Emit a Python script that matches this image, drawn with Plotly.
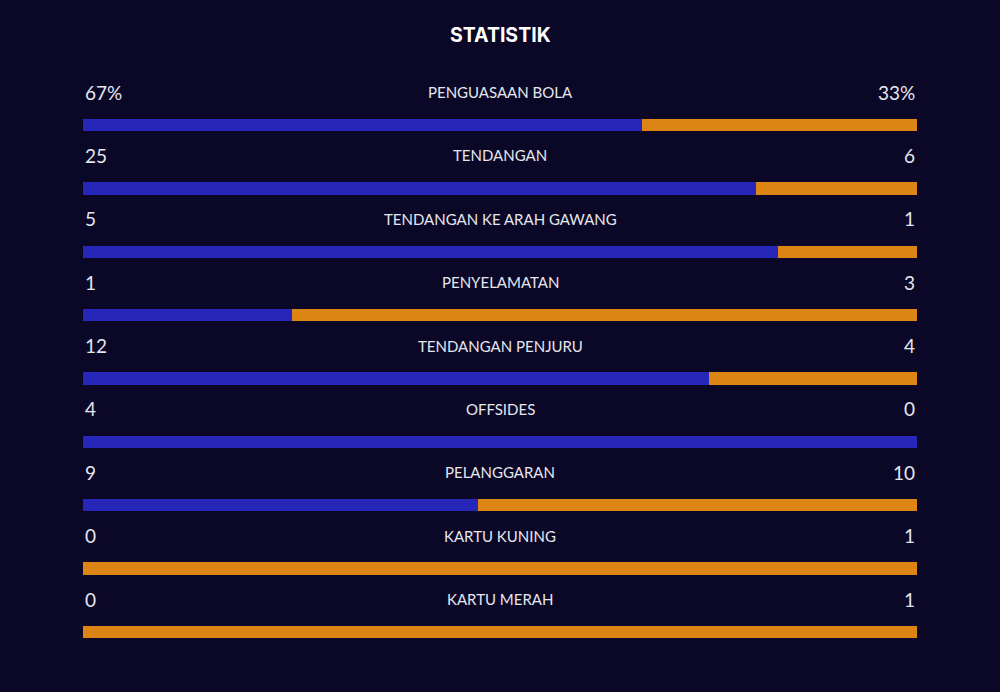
import plotly.graph_objects as go

categories = ["PENGUASAAN BOLA", "TENDANGAN", "TENDANGAN KE ARAH GAWANG", "PENYELAMATAN",
              "TENDANGAN PENJURU", "OFFSIDES", "PELANGGARAN", "KARTU KUNING", "KARTU MERAH"]
home_values = [67, 25, 5, 1, 12, 4, 9, 0, 0]
away_values = [33, 6, 1, 3, 4, 0, 10, 1, 1]
home_labels = ["67%", "25", "5", "1", "12", "4", "9", "0", "0"]
away_labels = ["33%", "6", "1", "3", "4", "0", "10", "1", "1"]

BG = "#0a0826"
BLUE = "#2626b8"
ORANGE = "#dc8515"
TXT = "#e6e6ee"

n = len(categories)
rows = list(range(n))
home_frac = [h / (h + a) if (h + a) else 0.5 for h, a in zip(home_values, away_values)]
away_frac = [1 - f for f in home_frac]

fig = go.Figure()
fig.add_trace(go.Bar(y=rows, x=home_frac, orientation="h", marker=dict(color=BLUE, line_width=0),
                     width=0.197, hoverinfo="skip"))
fig.add_trace(go.Bar(y=rows, x=away_frac, orientation="h", marker=dict(color=ORANGE, line_width=0),
                     width=0.197, hoverinfo="skip"))

PX = 63.375  # pixels per row
ann = []
off = 0.52
for i in rows:
    ann.append(dict(x=0, y=i - off, xref="x", yref="y", text=home_labels[i], showarrow=False,
                    xanchor="left", yanchor="middle", font=dict(family="Lato", size=19, color=TXT)))
    ann.append(dict(x=1, y=i - off, xref="x", yref="y", text=away_labels[i], showarrow=False,
                    xanchor="right", yanchor="middle", font=dict(family="Lato", size=19, color=TXT)))
    ann.append(dict(x=0.5, y=i - off, xref="x", yref="y", text=categories[i], showarrow=False,
                    xanchor="center", yanchor="middle", font=dict(family="Lato", size=15, color=TXT)))
ann.append(dict(x=0.5, y=(35 - 125) / PX, xref="paper", yref="y", text="<b>STATISTIK</b>", showarrow=False,
                xanchor="center", yanchor="middle", font=dict(family="Inter", size=19.5, color="#ffffff")))

fig.update_layout(
    barmode="stack", width=1000, height=692, showlegend=False,
    paper_bgcolor=BG, plot_bgcolor=BG,
    margin=dict(l=83, r=83, t=0, b=0),
    xaxis=dict(range=[0, 1], visible=False, fixedrange=True),
    yaxis=dict(range=[(692 - 125) / PX, -125 / PX], visible=False, fixedrange=True),
    annotations=ann, bargap=0,
)
fig.write_html("out.html", config={"displayModeBar": False})
